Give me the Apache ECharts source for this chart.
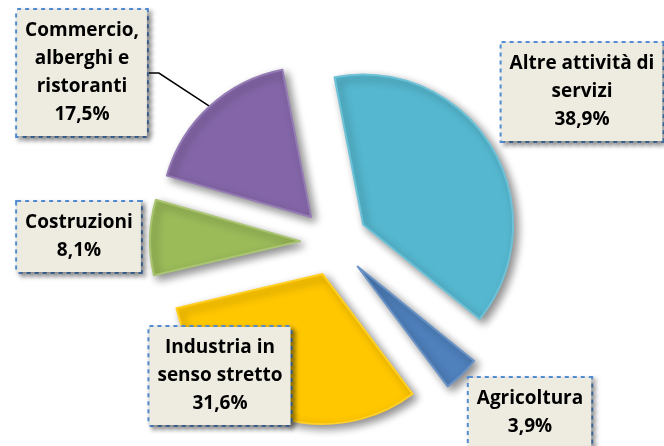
<!DOCTYPE html>
<html>
<head>
<meta charset="utf-8">
<script src="https://cdn.jsdelivr.net/npm/echarts@6/dist/echarts.min.js"></script>
<style>
  html, body { margin: 0; padding: 0; background: #fff; }
  #chart { width: 664px; height: 446px; }
</style>
</head>
<body>
<div id="chart"></div>
<script>
// Dati del grafico (in senso orario, a partire da ore 12 circa)
const categories = [
  'Altre attività di\nservizi',
  'Agricoltura',
  'Industria in\nsenso stretto',
  'Costruzioni',
  'Commercio,\nalberghi e\nristoranti'
]
const shares = [38.9, 3.9, 31.6, 8.1, 17.5]
const colors = ['#55b8d0', '#4f81bd', '#ffc700', '#9bbb59', '#8466a8']

// centro delle etichette (px)
const labelCenters = [[582, 92], [530, 413], [220, 376], [79, 237], [82, 73]]

// torta "esplosa": ogni fetta spostata verso l'esterno
const pieCenter = [334, 242]
const pieRadius = 150
const explode = 34
const firstAngle = 101

const myChart = echarts.init(document.getElementById('chart'))

const total = shares.reduce((a, b) => a + b, 0)
let cum = 0
const series = categories.map((name, i) => {
  const start = firstAngle - (cum / total) * 360
  const end = start - (shares[i] / total) * 360
  cum += shares[i]
  const mid = ((start + end) / 2) * Math.PI / 180
  return {
    type: 'pie',
    center: [pieCenter[0] + explode * Math.cos(mid), pieCenter[1] - explode * Math.sin(mid)],
    radius: pieRadius,
    startAngle: start,
    endAngle: end,
    clockwise: true,
    avoidLabelOverlap: false,
    emphasis: { disabled: true },
    itemStyle: {
      color: colors[i],
      borderColor: echarts.color.lift(colors[i], 0.15),
      borderWidth: 2,
      shadowColor: 'rgba(0,0,0,0.45)',
      shadowBlur: 8,
      shadowOffsetX: 4,
      shadowOffsetY: 4
    },
    label: {
      formatter: p => p.name + '\n' + p.value.toFixed(1).replace('.', ',') + '%',
      fontFamily: 'Open Sans',
      fontWeight: 'bold',
      fontSize: 19,
      lineHeight: 28,
      color: '#000',
      align: 'center',
      backgroundColor: '#eeece1',
      borderColor: '#558ed5',
      borderType: 'dotted',
      borderWidth: 2,
      padding: [7, 8],
      shadowColor: 'rgba(0,0,0,0.45)',
      shadowBlur: 5,
      shadowOffsetX: 3,
      shadowOffsetY: 3
    },
    labelLine: {
      show: i === 4,
      length: 10,
      length2: 10,
      lineStyle: { color: '#000', width: 1.5 }
    },
    labelLayout: () => ({
      x: labelCenters[i][0],
      y: labelCenters[i][1],
      align: 'center',
      verticalAlign: 'middle'
    }),
    data: [{ name: name, value: shares[i] }]
  }
})

myChart.setOption({ animation: false, series: series })
</script>
</body>
</html>
